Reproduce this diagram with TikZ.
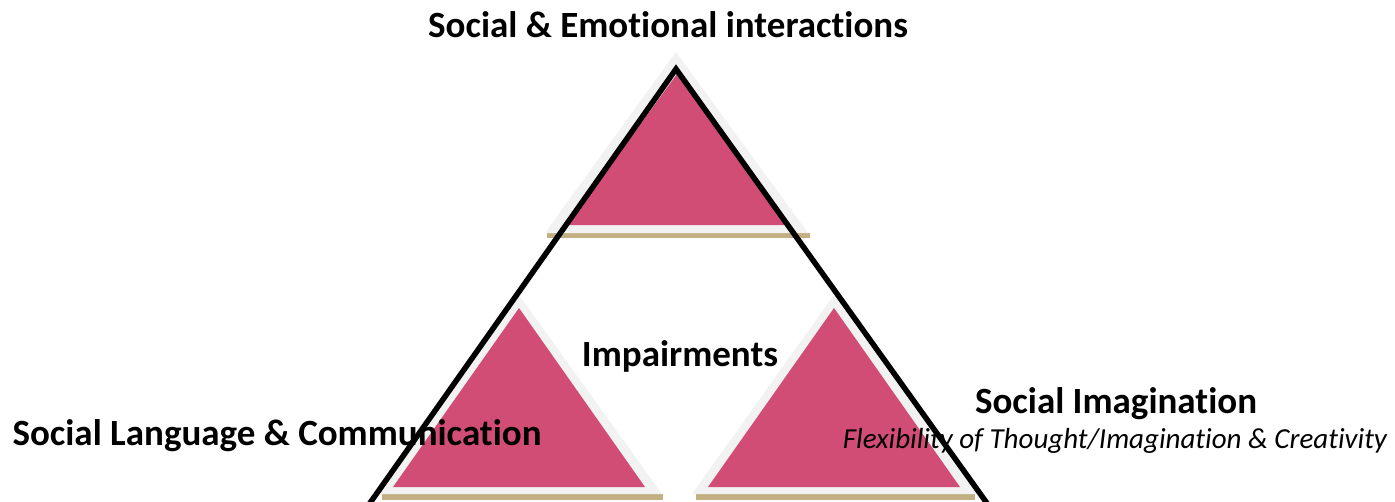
\documentclass[tikz,border=0pt]{standalone}
\usepackage{fontspec}
\setmainfont{Carlito}[Ligatures={NoCommon}]
\definecolor{blockpink}{HTML}{D14D76}
\definecolor{framegray}{HTML}{F2F2F2}
\definecolor{shelftan}{HTML}{C2B082}

\begin{document}
\begin{tikzpicture}[x=1pt,y=-1pt]
    \tikzstyle{heading} = [font=\fontsize{37}{44}\selectfont\bfseries, anchor=base, inner sep=0pt]
    \tikzstyle{subheading} = [font=\fontsize{29}{34}\selectfont\itshape, anchor=base, inner sep=0pt]
    \tikzstyle{frame} = [fill=framegray]
    \tikzstyle{block} = [fill=blockpink]
    \tikzstyle{shelf} = [fill=shelftan]
    \tikzstyle{outline} = [draw=black, line width=5.5pt, line join=miter]

    \useasboundingbox (0,0) rectangle (1395,501);
    \clip (0,0) rectangle (1395,501);

    % Top triangle
    \fill[shelf] (547,233) rectangle (810,238);
    \fill[frame] (676,52) -- (808,233) -- (545,233) -- cycle;
    \fill[block] (677,74) -- (787,225) -- (567,225) -- cycle;

    % Bottom left triangle
    \fill[shelf] (382,494) rectangle (663,500);
    \fill[frame] (519,295) -- (662,494) -- (380,494) -- cycle;
    \fill[block] (519,308) -- (645,487) -- (393,487) -- cycle;

    % Bottom right triangle
    \fill[shelf] (696,494) rectangle (975,500);
    \fill[frame] (834,295) -- (977,494) -- (692,494) -- cycle;
    \fill[block] (834,308) -- (960,487) -- (708,487) -- cycle;

    % Big outline
    \coordinate (apex) at (676,69);
    \coordinate (leftfoot) at (358,520);
    \coordinate (rightfoot) at (999,520);
    \draw[outline] (leftfoot) -- (apex) -- (rightfoot);

    % Labels
    \node[heading] (emotional) at (668,37) {Social \& Emotional interactions};
    \node[heading] (impair) at (680,366) {Impairments};
    \node[heading] (imagine) at (1116,413) {Social Imagination};
    \node[subheading] (flex) at (1115,448) {Flexibility of Thought/Imagination \& Creativity};
    \node[heading] (language) at (277,445) {Social Language \& Communication};
\end{tikzpicture}
\end{document}
